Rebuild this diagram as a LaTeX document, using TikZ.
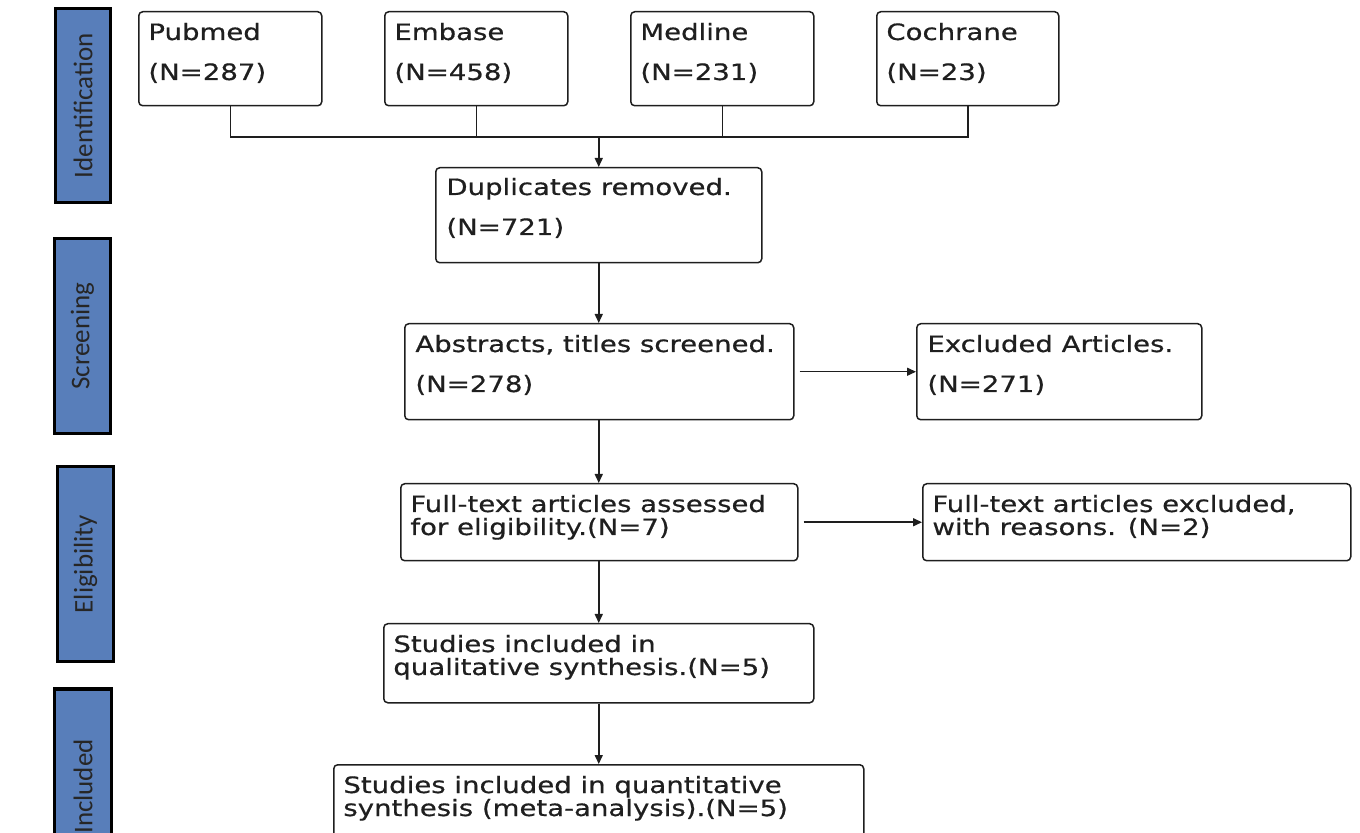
\documentclass[tikz,border=0pt]{standalone}
\usepackage{fontspec}
\newfontfamily\boxfont[FakeStretch=1.225,FakeBold=0.6]{DejaVu Sans}
\newfontfamily\sidefont{Carlito}
\usetikzlibrary{arrows.meta}
\definecolor{sideblue}{RGB}{88,126,186}
\definecolor{edgegray}{RGB}{30,30,30}
\newcommand\mybox[5]{\node[box, minimum width={(#4-#2)*0.5pt}, minimum height={(#5-#3)*0.5pt}] (#1) at (#2,#3) {};}
\newcommand\mytxt[4]{\node[txt] (#1) at (#2,#3) {#4};}
\begin{document}
\begin{tikzpicture}[x=0.5pt,y=-0.5pt,
  box/.style={draw=edgegray, line width=0.75pt, rounded corners=2pt, inner sep=0pt, anchor=north west},
  txt/.style={inner sep=0pt, anchor=base west, font=\boxfont\fontsize{11.25pt}{13pt}\selectfont, text=black!88},
  side/.style={draw=black, line width=1.6pt, fill=sideblue, inner sep=0pt, rotate=90, font=\sidefont\fontsize{13.5pt}{16pt}\selectfont, text=black!85},
  conn/.style={draw=edgegray, line width=0.75pt},
  arr/.style={conn, -{Triangle[length=4.5pt,width=4pt]}}]
\useasboundingbox (0,0) rectangle (1360,833);
% side labels
\node[side, minimum width=97pt, minimum height=27.5pt] (idl) at (83,105.5) {Identification};
\node[side, minimum width=97.5pt, minimum height=28pt] (scr) at (82.5,336) {Screening};
\node[side, minimum width=97.5pt, minimum height=28pt] (eli) at (85.5,564) {Eligibility};
\node[side, minimum width=97.5pt, minimum height=28.5pt] (inc) at (83,786.5) {Included};
% boxes
\mybox{pub}{138}{11}{321}{105}
\mytxt{pub1}{148}{40}{Pubmed}
\mytxt{pub2}{148}{80}{(N=287)}
\mybox{emb}{384}{11}{567}{105}
\mytxt{emb1}{394}{40}{Embase}
\mytxt{emb2}{394}{80}{(N=458)}
\mybox{med}{630}{11}{813}{105}
\mytxt{med1}{640}{40}{Medline}
\mytxt{med2}{640}{80}{(N=231)}
\mybox{coc}{876}{11}{1058}{105}
\mytxt{coc1}{886}{40}{Cochrane}
\mytxt{coc2}{886}{80}{(N=23)}
\mybox{dup}{435}{167}{761}{262}
\mytxt{dup1}{446}{195}{Duplicates removed.}
\mytxt{dup2}{446}{235}{(N=721)}
\mybox{abs}{404}{323}{793}{419}
\mytxt{abs1}{415}{352}{Abstracts, titles screened.}
\mytxt{abs2}{415}{392}{(N=278)}
\mybox{exa}{916}{323}{1201}{419}
\mytxt{exa1}{927}{352}{Excluded Articles.}
\mytxt{exa2}{927}{392}{(N=271)}
\mybox{fta}{400}{483}{797}{560}
\mytxt{fta1}{410}{512}{Full-text articles assessed}
\mytxt{fta2}{410}{535}{for eligibility.(N=7)}
\mybox{fte}{922}{483}{1350}{560}
\mytxt{fte1}{932}{512}{Full-text articles excluded,}
\mytxt{fte2}{932}{535}{with reasons. (N=2)}
\mybox{sql}{383}{623}{813}{702}
\mytxt{sql1}{393}{652}{Studies included in}
\mytxt{sql2}{393}{675}{qualitative synthesis.(N=5)}
\mybox{sqn}{333}{764}{863}{850}
\mytxt{sqn1}{343}{793}{Studies included in quantitative}
\mytxt{sqn2}{343}{816}{synthesis (meta-analysis).(N=5)}
% connectors
\coordinate (bus) at (dup.north |- 0,137);
\draw[conn] (pub.south) |- (coc.south |- bus) -- (coc.south);
\draw[conn] (emb.south) -- (emb.south |- bus);
\draw[conn] (med.south) -- (med.south |- bus);
\draw[arr] (bus) -- (dup.north);
\draw[arr] (dup.south) -- (dup.south |- abs.north);
\draw[arr] (dup.south |- abs.south) -- (dup.south |- fta.north);
\draw[arr] (dup.south |- fta.south) -- (dup.south |- sql.north);
\draw[arr] (dup.south |- sql.south) -- (dup.south |- sqn.north);
\draw[arr, shorten <=2.5pt] (abs.east) -- (exa.west);
\draw[arr, shorten <=2.5pt] (fta.east) -- (fte.west);
\end{tikzpicture}
\end{document}
